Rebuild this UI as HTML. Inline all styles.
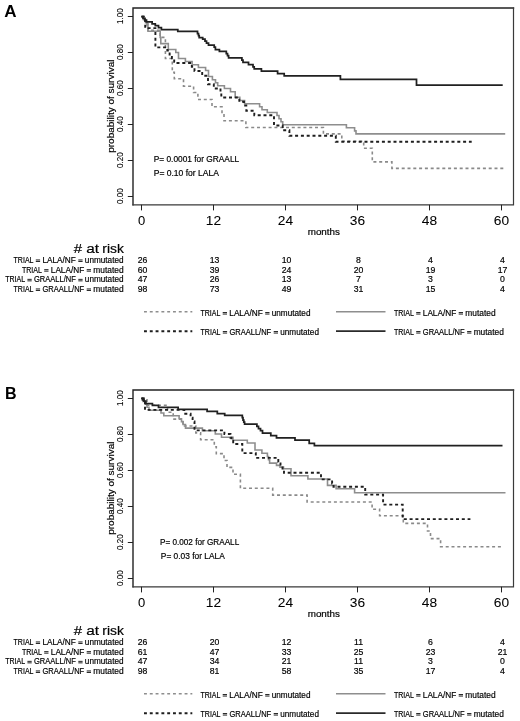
<!DOCTYPE html>
<html><head><meta charset="utf-8"><style>
html,body{margin:0;padding:0;background:#fff;}
svg{display:block;will-change:transform;}
text{font-family:"Liberation Sans", sans-serif;stroke:#000;stroke-width:0.18px;}
</style></head><body>
<svg width="520" height="721" viewBox="0 0 520 721">
<rect width="520" height="721" fill="#fff"/>
<text x="4.2" y="16.9" font-size="16" textLength="12.3" lengthAdjust="spacingAndGlyphs" font-weight="bold" fill="#000" style="stroke:none">A</text>
<path d="M133,204.8 V8 H513.5" fill="none" stroke="#222" stroke-width="1.4" stroke-linecap="square"/>
<path d="M133,204.8 H513.5 V8" fill="none" stroke="#3a3a3a" stroke-width="1.2" stroke-linecap="square"/>
<line x1="127.8" y1="196.5" x2="133" y2="196.5" stroke="#222" stroke-width="1"/>
<text transform="translate(122.6,196.15) rotate(-90)" font-size="9.2" text-anchor="middle" textLength="15.6" lengthAdjust="spacingAndGlyphs" style="stroke-width:0.1px">0.00</text>
<line x1="127.8" y1="160.5" x2="133" y2="160.5" stroke="#222" stroke-width="1"/>
<text transform="translate(122.6,160.15) rotate(-90)" font-size="9.2" text-anchor="middle" textLength="15.6" lengthAdjust="spacingAndGlyphs" style="stroke-width:0.1px">0.20</text>
<line x1="127.8" y1="124.5" x2="133" y2="124.5" stroke="#222" stroke-width="1"/>
<text transform="translate(122.6,124.15) rotate(-90)" font-size="9.2" text-anchor="middle" textLength="15.6" lengthAdjust="spacingAndGlyphs" style="stroke-width:0.1px">0.40</text>
<line x1="127.8" y1="88.49999999999999" x2="133" y2="88.49999999999999" stroke="#222" stroke-width="1"/>
<text transform="translate(122.6,88.14999999999999) rotate(-90)" font-size="9.2" text-anchor="middle" textLength="15.6" lengthAdjust="spacingAndGlyphs" style="stroke-width:0.1px">0.60</text>
<line x1="127.8" y1="52.5" x2="133" y2="52.5" stroke="#222" stroke-width="1"/>
<text transform="translate(122.6,52.15) rotate(-90)" font-size="9.2" text-anchor="middle" textLength="15.6" lengthAdjust="spacingAndGlyphs" style="stroke-width:0.1px">0.80</text>
<line x1="127.8" y1="16.5" x2="133" y2="16.5" stroke="#222" stroke-width="1"/>
<text transform="translate(122.6,16.15) rotate(-90)" font-size="9.2" text-anchor="middle" textLength="15.6" lengthAdjust="spacingAndGlyphs" style="stroke-width:0.1px">1.00</text>
<text transform="translate(114.1,106.2) rotate(-90)" font-size="9" text-anchor="middle" textLength="93.2" lengthAdjust="spacingAndGlyphs">probability of survival</text>
<line x1="141.5" y1="204.8" x2="141.5" y2="210.4" stroke="#222" stroke-width="1"/>
<text x="141.5" y="225.2" font-size="13" text-anchor="middle" fill="#000" style="stroke-width:0.05px">0</text>
<line x1="213.5" y1="204.8" x2="213.5" y2="210.4" stroke="#222" stroke-width="1"/>
<text x="213.5" y="225.2" font-size="13" text-anchor="middle" textLength="15.3" lengthAdjust="spacingAndGlyphs" fill="#000" style="stroke-width:0.05px">12</text>
<line x1="285.5" y1="204.8" x2="285.5" y2="210.4" stroke="#222" stroke-width="1"/>
<text x="285.5" y="225.2" font-size="13" text-anchor="middle" textLength="15.3" lengthAdjust="spacingAndGlyphs" fill="#000" style="stroke-width:0.05px">24</text>
<line x1="357.5" y1="204.8" x2="357.5" y2="210.4" stroke="#222" stroke-width="1"/>
<text x="357.5" y="225.2" font-size="13" text-anchor="middle" textLength="15.3" lengthAdjust="spacingAndGlyphs" fill="#000" style="stroke-width:0.05px">36</text>
<line x1="429.5" y1="204.8" x2="429.5" y2="210.4" stroke="#222" stroke-width="1"/>
<text x="429.5" y="225.2" font-size="13" text-anchor="middle" textLength="15.3" lengthAdjust="spacingAndGlyphs" fill="#000" style="stroke-width:0.05px">48</text>
<line x1="501.5" y1="204.8" x2="501.5" y2="210.4" stroke="#222" stroke-width="1"/>
<text x="501.5" y="225.2" font-size="13" text-anchor="middle" textLength="15.3" lengthAdjust="spacingAndGlyphs" fill="#000" style="stroke-width:0.05px">60</text>
<text x="307.7" y="235" font-size="9" textLength="32.3" lengthAdjust="spacingAndGlyphs" fill="#000">months</text>
<text x="73.80" y="252.8" font-size="12" textLength="8.30" lengthAdjust="spacingAndGlyphs">#</text>
<text x="86.20" y="252.8" font-size="12" textLength="12.80" lengthAdjust="spacingAndGlyphs">at</text>
<text x="102.30" y="252.8" font-size="12" textLength="21.50" lengthAdjust="spacingAndGlyphs">risk</text>
<text x="13.55" y="262.9" font-size="8.2" textLength="19.95" lengthAdjust="spacingAndGlyphs">TRIAL</text>
<rect x="35.80" y="259.45" width="4.30" height="1.0" fill="#222"/>
<rect x="35.80" y="260.95" width="4.30" height="1.0" fill="#222"/>
<text x="42.40" y="262.9" font-size="8.2" textLength="33.40" lengthAdjust="spacingAndGlyphs">LALA/NF</text>
<rect x="78.30" y="259.45" width="4.30" height="1.0" fill="#222"/>
<rect x="78.30" y="260.95" width="4.30" height="1.0" fill="#222"/>
<text x="84.85" y="262.9" font-size="8.2" textLength="38.70" lengthAdjust="spacingAndGlyphs">unmutated</text>
<text x="142.5" y="262.9" font-size="8.7" text-anchor="middle" fill="#000">26</text>
<text x="214.5" y="262.9" font-size="8.7" text-anchor="middle" fill="#000">13</text>
<text x="286.5" y="262.9" font-size="8.7" text-anchor="middle" fill="#000">10</text>
<text x="358.5" y="262.9" font-size="8.7" text-anchor="middle" fill="#000">8</text>
<text x="430.5" y="262.9" font-size="8.7" text-anchor="middle" fill="#000">4</text>
<text x="502.5" y="262.9" font-size="8.7" text-anchor="middle" fill="#000">4</text>
<text x="21.95" y="272.6" font-size="8.2" textLength="19.95" lengthAdjust="spacingAndGlyphs">TRIAL</text>
<rect x="44.20" y="269.15" width="4.30" height="1.0" fill="#222"/>
<rect x="44.20" y="270.65" width="4.30" height="1.0" fill="#222"/>
<text x="50.80" y="272.6" font-size="8.2" textLength="33.40" lengthAdjust="spacingAndGlyphs">LALA/NF</text>
<rect x="86.70" y="269.15" width="4.30" height="1.0" fill="#222"/>
<rect x="86.70" y="270.65" width="4.30" height="1.0" fill="#222"/>
<text x="93.25" y="272.6" font-size="8.2" textLength="30.30" lengthAdjust="spacingAndGlyphs">mutated</text>
<text x="142.5" y="272.6" font-size="8.7" text-anchor="middle" fill="#000">60</text>
<text x="214.5" y="272.6" font-size="8.7" text-anchor="middle" fill="#000">39</text>
<text x="286.5" y="272.6" font-size="8.7" text-anchor="middle" fill="#000">24</text>
<text x="358.5" y="272.6" font-size="8.7" text-anchor="middle" fill="#000">20</text>
<text x="430.5" y="272.6" font-size="8.7" text-anchor="middle" fill="#000">19</text>
<text x="502.5" y="272.6" font-size="8.7" text-anchor="middle" fill="#000">17</text>
<text x="5.15" y="282.3" font-size="8.2" textLength="19.95" lengthAdjust="spacingAndGlyphs">TRIAL</text>
<rect x="27.40" y="278.85" width="4.30" height="1.0" fill="#222"/>
<rect x="27.40" y="280.35" width="4.30" height="1.0" fill="#222"/>
<text x="34.00" y="282.3" font-size="8.2" textLength="41.80" lengthAdjust="spacingAndGlyphs">GRAALL/NF</text>
<rect x="78.30" y="278.85" width="4.30" height="1.0" fill="#222"/>
<rect x="78.30" y="280.35" width="4.30" height="1.0" fill="#222"/>
<text x="84.85" y="282.3" font-size="8.2" textLength="38.70" lengthAdjust="spacingAndGlyphs">unmutated</text>
<text x="142.5" y="282.3" font-size="8.7" text-anchor="middle" fill="#000">47</text>
<text x="214.5" y="282.3" font-size="8.7" text-anchor="middle" fill="#000">26</text>
<text x="286.5" y="282.3" font-size="8.7" text-anchor="middle" fill="#000">13</text>
<text x="358.5" y="282.3" font-size="8.7" text-anchor="middle" fill="#000">7</text>
<text x="430.5" y="282.3" font-size="8.7" text-anchor="middle" fill="#000">3</text>
<text x="502.5" y="282.3" font-size="8.7" text-anchor="middle" fill="#000">0</text>
<text x="13.55" y="291.9" font-size="8.2" textLength="19.95" lengthAdjust="spacingAndGlyphs">TRIAL</text>
<rect x="35.80" y="288.45" width="4.30" height="1.0" fill="#222"/>
<rect x="35.80" y="289.95" width="4.30" height="1.0" fill="#222"/>
<text x="42.40" y="291.9" font-size="8.2" textLength="41.80" lengthAdjust="spacingAndGlyphs">GRAALL/NF</text>
<rect x="86.70" y="288.45" width="4.30" height="1.0" fill="#222"/>
<rect x="86.70" y="289.95" width="4.30" height="1.0" fill="#222"/>
<text x="93.25" y="291.9" font-size="8.2" textLength="30.30" lengthAdjust="spacingAndGlyphs">mutated</text>
<text x="142.5" y="291.9" font-size="8.7" text-anchor="middle" fill="#000">98</text>
<text x="214.5" y="291.9" font-size="8.7" text-anchor="middle" fill="#000">73</text>
<text x="286.5" y="291.9" font-size="8.7" text-anchor="middle" fill="#000">49</text>
<text x="358.5" y="291.9" font-size="8.7" text-anchor="middle" fill="#000">31</text>
<text x="430.5" y="291.9" font-size="8.7" text-anchor="middle" fill="#000">15</text>
<text x="502.5" y="291.9" font-size="8.7" text-anchor="middle" fill="#000">4</text>
<line x1="144" y1="311.8" x2="192.3" y2="311.8" stroke="#8e8e8e" stroke-width="1.6" stroke-dasharray="2.9 2.9"/>
<line x1="144" y1="331.2" x2="192.3" y2="331.2" stroke="#1e1e1e" stroke-width="1.9" stroke-dasharray="2.9 2.9"/>
<line x1="336" y1="311.8" x2="385.5" y2="311.8" stroke="#8e8e8e" stroke-width="1.6"/>
<line x1="336" y1="331.2" x2="385.5" y2="331.2" stroke="#2a2a2a" stroke-width="1.7"/>
<text x="200.45" y="315.5" font-size="8.2" textLength="19.95" lengthAdjust="spacingAndGlyphs">TRIAL</text>
<rect x="222.70" y="312.05" width="4.30" height="1.0" fill="#222"/>
<rect x="222.70" y="313.55" width="4.30" height="1.0" fill="#222"/>
<text x="229.30" y="315.5" font-size="8.2" textLength="33.40" lengthAdjust="spacingAndGlyphs">LALA/NF</text>
<rect x="265.20" y="312.05" width="4.30" height="1.0" fill="#222"/>
<rect x="265.20" y="313.55" width="4.30" height="1.0" fill="#222"/>
<text x="271.75" y="315.5" font-size="8.2" textLength="38.70" lengthAdjust="spacingAndGlyphs">unmutated</text>
<text x="200.55" y="334.5" font-size="8.2" textLength="19.95" lengthAdjust="spacingAndGlyphs">TRIAL</text>
<rect x="222.80" y="331.05" width="4.30" height="1.0" fill="#222"/>
<rect x="222.80" y="332.55" width="4.30" height="1.0" fill="#222"/>
<text x="229.40" y="334.5" font-size="8.2" textLength="41.80" lengthAdjust="spacingAndGlyphs">GRAALL/NF</text>
<rect x="273.70" y="331.05" width="4.30" height="1.0" fill="#222"/>
<rect x="273.70" y="332.55" width="4.30" height="1.0" fill="#222"/>
<text x="280.25" y="334.5" font-size="8.2" textLength="38.70" lengthAdjust="spacingAndGlyphs">unmutated</text>
<text x="393.95" y="315.5" font-size="8.2" textLength="19.95" lengthAdjust="spacingAndGlyphs">TRIAL</text>
<rect x="416.20" y="312.05" width="4.30" height="1.0" fill="#222"/>
<rect x="416.20" y="313.55" width="4.30" height="1.0" fill="#222"/>
<text x="422.80" y="315.5" font-size="8.2" textLength="33.40" lengthAdjust="spacingAndGlyphs">LALA/NF</text>
<rect x="458.70" y="312.05" width="4.30" height="1.0" fill="#222"/>
<rect x="458.70" y="313.55" width="4.30" height="1.0" fill="#222"/>
<text x="465.25" y="315.5" font-size="8.2" textLength="30.30" lengthAdjust="spacingAndGlyphs">mutated</text>
<text x="393.95" y="334.5" font-size="8.2" textLength="19.95" lengthAdjust="spacingAndGlyphs">TRIAL</text>
<rect x="416.20" y="331.05" width="4.30" height="1.0" fill="#222"/>
<rect x="416.20" y="332.55" width="4.30" height="1.0" fill="#222"/>
<text x="422.80" y="334.5" font-size="8.2" textLength="41.80" lengthAdjust="spacingAndGlyphs">GRAALL/NF</text>
<rect x="467.10" y="331.05" width="4.30" height="1.0" fill="#222"/>
<rect x="467.10" y="332.55" width="4.30" height="1.0" fill="#222"/>
<text x="473.65" y="334.5" font-size="8.2" textLength="30.30" lengthAdjust="spacingAndGlyphs">mutated</text>
<text x="153.7" y="161.9" font-size="8.2" textLength="85.5" lengthAdjust="spacingAndGlyphs" fill="#000">P= 0.0001 for GRAALL</text>
<text x="153.7" y="176.3" font-size="8.2" textLength="65.3" lengthAdjust="spacingAndGlyphs" fill="#000">P= 0.10 for LALA</text>
<path d="M141.7,16.6 L145.0,16.6 L145.0,23.6 L148.0,23.6 L148.0,30.4 L160.2,30.4 L160.2,37.4 L165.4,37.4 L165.4,58.5 L172.3,58.5 L172.3,72.2 L174.3,72.2 L174.3,78.7 L183.5,78.7 L183.5,86.2 L193.6,86.2 L193.6,92.5 L197.9,92.5 L197.9,99.5 L212.0,99.5 L212.0,106.8 L222.0,106.8 L222.0,113.7 L224.0,113.7 L224.0,120.8 L245.9,120.8 L245.9,127.5 L323.4,127.5 L323.4,133.9 L341.8,133.9 L341.8,141.2 L363.7,141.2 L363.7,148.2 L372.3,148.2 L372.3,161.9 L391.9,161.9 L391.9,168.4 L504.0,168.4" fill="none" stroke="#8a8a8a" stroke-width="1.6" stroke-dasharray="3 2.8" stroke-linejoin="miter" stroke-linecap="butt"/>
<path d="M141.7,16.6 L143.5,16.6 L143.5,19.6 L145.5,19.6 L145.5,22.6 L147.0,22.6 L147.0,25.6 L148.0,25.6 L148.0,31.2 L160.2,31.2 L160.2,37.5 L160.8,37.5 L160.8,43.6 L168.3,43.6 L168.3,49.5 L175.8,49.5 L175.8,52.5 L178.5,52.5 L178.5,58.5 L185.4,58.5 L185.4,61.5 L192.1,61.5 L192.1,64.7 L198.4,64.7 L198.4,67.5 L205.6,67.5 L205.6,70.5 L208.5,70.5 L208.5,76.5 L212.4,76.5 L212.4,79.7 L215.5,79.7 L215.5,82.8 L217.7,82.8 L217.7,85.7 L224.4,85.7 L224.4,88.5 L230.5,88.5 L230.5,91.8 L235.2,91.8 L235.2,97.2 L239.8,97.2 L239.8,100.5 L244.6,100.5 L244.6,103.7 L259.6,103.7 L259.6,106.8 L262.0,106.8 L262.0,109.7 L267.3,109.7 L267.3,112.5 L277.0,112.5 L277.0,115.5 L279.0,115.5 L279.0,118.7 L281.0,118.7 L281.0,121.7 L282.7,121.7 L282.7,124.7 L346.4,124.7 L346.4,127.8 L354.6,127.8 L354.6,130.9 L356.0,130.9 L356.0,133.9 L505.2,133.9" fill="none" stroke="#8e8e8e" stroke-width="1.6" stroke-linejoin="miter" stroke-linecap="butt"/>
<path d="M141.7,16.6 L145.2,16.6 L145.2,28.1 L155.4,28.1 L155.4,47.4 L167.3,47.4 L167.3,50.5 L169.6,50.5 L169.6,54.5 L171.9,54.5 L171.9,58.2 L174.2,58.2 L174.2,61.8 L175.8,61.8 L175.8,63.0 L191.8,63.0 L191.8,66.8 L194.5,66.8 L194.5,71.0 L202.2,71.0 L202.2,75.8 L208.0,75.8 L208.0,84.2 L213.8,84.2 L213.8,88.5 L220.5,88.5 L220.5,93.2 L221.3,93.2 L221.3,97.5 L239.3,97.5 L239.3,101.8 L244.0,101.8 L244.0,105.5 L246.3,105.5 L246.3,110.7 L254.3,110.7 L254.3,115.2 L274.0,115.2 L274.0,125.5 L282.7,125.5 L282.7,130.3 L289.4,130.3 L289.4,135.8 L335.8,135.8 L335.8,141.8 L471.7,141.8" fill="none" stroke="#1e1e1e" stroke-width="1.9" stroke-dasharray="3 2.8" stroke-linejoin="miter" stroke-linecap="butt"/>
<path d="M141.2,16.6 L143.0,16.6 L143.0,18.4 L145.0,18.4 L145.0,20.2 L146.5,20.2 L146.5,21.8 L152.1,21.8 L152.1,23.8 L155.3,23.8 L155.3,25.6 L158.5,25.6 L158.5,27.6 L161.4,27.6 L161.4,29.6 L177.8,29.6 L177.8,31.4 L197.5,31.4 L197.5,33.5 L198.5,33.5 L198.5,35.5 L199.2,35.5 L199.2,37.5 L202.7,37.5 L202.7,39.2 L205.0,39.2 L205.0,41.2 L206.5,41.2 L206.5,43.2 L208.5,43.2 L208.5,45.0 L214.2,45.0 L214.2,47.2 L215.4,47.2 L215.4,49.6 L219.4,49.6 L219.4,51.4 L226.3,51.4 L226.3,53.5 L227.5,53.5 L227.5,55.5 L228.6,55.5 L228.6,57.8 L241.9,57.8 L241.9,60.0 L243.0,60.0 L243.0,62.4 L248.5,62.4 L248.5,64.7 L253.0,64.7 L253.0,66.8 L254.2,66.8 L254.2,68.8 L261.4,68.8 L261.4,71.2 L277.6,71.2 L277.6,73.5 L284.2,73.5 L284.2,75.8 L340.4,75.8 L340.4,79.3 L416.5,79.3 L416.5,85.0 L502.7,85.0" fill="none" stroke="#202020" stroke-width="1.75" stroke-linejoin="miter" stroke-linecap="butt"/>
<text x="4.9" y="399.1" font-size="16" textLength="11.6" lengthAdjust="spacingAndGlyphs" font-weight="bold" fill="#000" style="stroke:none">B</text>
<path d="M133,586.8 V390 H513.5" fill="none" stroke="#222" stroke-width="1.4" stroke-linecap="square"/>
<path d="M133,586.8 H513.5 V390" fill="none" stroke="#3a3a3a" stroke-width="1.2" stroke-linecap="square"/>
<line x1="127.8" y1="578.5" x2="133" y2="578.5" stroke="#222" stroke-width="1"/>
<text transform="translate(122.6,578.15) rotate(-90)" font-size="9.2" text-anchor="middle" textLength="15.6" lengthAdjust="spacingAndGlyphs" style="stroke-width:0.1px">0.00</text>
<line x1="127.8" y1="542.5" x2="133" y2="542.5" stroke="#222" stroke-width="1"/>
<text transform="translate(122.6,542.15) rotate(-90)" font-size="9.2" text-anchor="middle" textLength="15.6" lengthAdjust="spacingAndGlyphs" style="stroke-width:0.1px">0.20</text>
<line x1="127.8" y1="506.5" x2="133" y2="506.5" stroke="#222" stroke-width="1"/>
<text transform="translate(122.6,506.15) rotate(-90)" font-size="9.2" text-anchor="middle" textLength="15.6" lengthAdjust="spacingAndGlyphs" style="stroke-width:0.1px">0.40</text>
<line x1="127.8" y1="470.5" x2="133" y2="470.5" stroke="#222" stroke-width="1"/>
<text transform="translate(122.6,470.15) rotate(-90)" font-size="9.2" text-anchor="middle" textLength="15.6" lengthAdjust="spacingAndGlyphs" style="stroke-width:0.1px">0.60</text>
<line x1="127.8" y1="434.5" x2="133" y2="434.5" stroke="#222" stroke-width="1"/>
<text transform="translate(122.6,434.15) rotate(-90)" font-size="9.2" text-anchor="middle" textLength="15.6" lengthAdjust="spacingAndGlyphs" style="stroke-width:0.1px">0.80</text>
<line x1="127.8" y1="398.5" x2="133" y2="398.5" stroke="#222" stroke-width="1"/>
<text transform="translate(122.6,398.15) rotate(-90)" font-size="9.2" text-anchor="middle" textLength="15.6" lengthAdjust="spacingAndGlyphs" style="stroke-width:0.1px">1.00</text>
<text transform="translate(114.1,488.2) rotate(-90)" font-size="9" text-anchor="middle" textLength="93.2" lengthAdjust="spacingAndGlyphs">probability of survival</text>
<line x1="141.5" y1="586.8" x2="141.5" y2="592.4" stroke="#222" stroke-width="1"/>
<text x="141.5" y="607.2" font-size="13" text-anchor="middle" fill="#000" style="stroke-width:0.05px">0</text>
<line x1="213.5" y1="586.8" x2="213.5" y2="592.4" stroke="#222" stroke-width="1"/>
<text x="213.5" y="607.2" font-size="13" text-anchor="middle" textLength="15.3" lengthAdjust="spacingAndGlyphs" fill="#000" style="stroke-width:0.05px">12</text>
<line x1="285.5" y1="586.8" x2="285.5" y2="592.4" stroke="#222" stroke-width="1"/>
<text x="285.5" y="607.2" font-size="13" text-anchor="middle" textLength="15.3" lengthAdjust="spacingAndGlyphs" fill="#000" style="stroke-width:0.05px">24</text>
<line x1="357.5" y1="586.8" x2="357.5" y2="592.4" stroke="#222" stroke-width="1"/>
<text x="357.5" y="607.2" font-size="13" text-anchor="middle" textLength="15.3" lengthAdjust="spacingAndGlyphs" fill="#000" style="stroke-width:0.05px">36</text>
<line x1="429.5" y1="586.8" x2="429.5" y2="592.4" stroke="#222" stroke-width="1"/>
<text x="429.5" y="607.2" font-size="13" text-anchor="middle" textLength="15.3" lengthAdjust="spacingAndGlyphs" fill="#000" style="stroke-width:0.05px">48</text>
<line x1="501.5" y1="586.8" x2="501.5" y2="592.4" stroke="#222" stroke-width="1"/>
<text x="501.5" y="607.2" font-size="13" text-anchor="middle" textLength="15.3" lengthAdjust="spacingAndGlyphs" fill="#000" style="stroke-width:0.05px">60</text>
<text x="307.7" y="617" font-size="9" textLength="32.3" lengthAdjust="spacingAndGlyphs" fill="#000">months</text>
<text x="73.80" y="634.8" font-size="12" textLength="8.30" lengthAdjust="spacingAndGlyphs">#</text>
<text x="86.20" y="634.8" font-size="12" textLength="12.80" lengthAdjust="spacingAndGlyphs">at</text>
<text x="102.30" y="634.8" font-size="12" textLength="21.50" lengthAdjust="spacingAndGlyphs">risk</text>
<text x="13.55" y="644.9" font-size="8.2" textLength="19.95" lengthAdjust="spacingAndGlyphs">TRIAL</text>
<rect x="35.80" y="641.45" width="4.30" height="1.0" fill="#222"/>
<rect x="35.80" y="642.95" width="4.30" height="1.0" fill="#222"/>
<text x="42.40" y="644.9" font-size="8.2" textLength="33.40" lengthAdjust="spacingAndGlyphs">LALA/NF</text>
<rect x="78.30" y="641.45" width="4.30" height="1.0" fill="#222"/>
<rect x="78.30" y="642.95" width="4.30" height="1.0" fill="#222"/>
<text x="84.85" y="644.9" font-size="8.2" textLength="38.70" lengthAdjust="spacingAndGlyphs">unmutated</text>
<text x="142.5" y="644.9" font-size="8.7" text-anchor="middle" fill="#000">26</text>
<text x="214.5" y="644.9" font-size="8.7" text-anchor="middle" fill="#000">20</text>
<text x="286.5" y="644.9" font-size="8.7" text-anchor="middle" fill="#000">12</text>
<text x="358.5" y="644.9" font-size="8.7" text-anchor="middle" fill="#000">11</text>
<text x="430.5" y="644.9" font-size="8.7" text-anchor="middle" fill="#000">6</text>
<text x="502.5" y="644.9" font-size="8.7" text-anchor="middle" fill="#000">4</text>
<text x="21.95" y="654.6" font-size="8.2" textLength="19.95" lengthAdjust="spacingAndGlyphs">TRIAL</text>
<rect x="44.20" y="651.15" width="4.30" height="1.0" fill="#222"/>
<rect x="44.20" y="652.65" width="4.30" height="1.0" fill="#222"/>
<text x="50.80" y="654.6" font-size="8.2" textLength="33.40" lengthAdjust="spacingAndGlyphs">LALA/NF</text>
<rect x="86.70" y="651.15" width="4.30" height="1.0" fill="#222"/>
<rect x="86.70" y="652.65" width="4.30" height="1.0" fill="#222"/>
<text x="93.25" y="654.6" font-size="8.2" textLength="30.30" lengthAdjust="spacingAndGlyphs">mutated</text>
<text x="142.5" y="654.6" font-size="8.7" text-anchor="middle" fill="#000">61</text>
<text x="214.5" y="654.6" font-size="8.7" text-anchor="middle" fill="#000">47</text>
<text x="286.5" y="654.6" font-size="8.7" text-anchor="middle" fill="#000">33</text>
<text x="358.5" y="654.6" font-size="8.7" text-anchor="middle" fill="#000">25</text>
<text x="430.5" y="654.6" font-size="8.7" text-anchor="middle" fill="#000">23</text>
<text x="502.5" y="654.6" font-size="8.7" text-anchor="middle" fill="#000">21</text>
<text x="5.15" y="664.3" font-size="8.2" textLength="19.95" lengthAdjust="spacingAndGlyphs">TRIAL</text>
<rect x="27.40" y="660.85" width="4.30" height="1.0" fill="#222"/>
<rect x="27.40" y="662.35" width="4.30" height="1.0" fill="#222"/>
<text x="34.00" y="664.3" font-size="8.2" textLength="41.80" lengthAdjust="spacingAndGlyphs">GRAALL/NF</text>
<rect x="78.30" y="660.85" width="4.30" height="1.0" fill="#222"/>
<rect x="78.30" y="662.35" width="4.30" height="1.0" fill="#222"/>
<text x="84.85" y="664.3" font-size="8.2" textLength="38.70" lengthAdjust="spacingAndGlyphs">unmutated</text>
<text x="142.5" y="664.3" font-size="8.7" text-anchor="middle" fill="#000">47</text>
<text x="214.5" y="664.3" font-size="8.7" text-anchor="middle" fill="#000">34</text>
<text x="286.5" y="664.3" font-size="8.7" text-anchor="middle" fill="#000">21</text>
<text x="358.5" y="664.3" font-size="8.7" text-anchor="middle" fill="#000">11</text>
<text x="430.5" y="664.3" font-size="8.7" text-anchor="middle" fill="#000">3</text>
<text x="502.5" y="664.3" font-size="8.7" text-anchor="middle" fill="#000">0</text>
<text x="13.55" y="673.9" font-size="8.2" textLength="19.95" lengthAdjust="spacingAndGlyphs">TRIAL</text>
<rect x="35.80" y="670.45" width="4.30" height="1.0" fill="#222"/>
<rect x="35.80" y="671.95" width="4.30" height="1.0" fill="#222"/>
<text x="42.40" y="673.9" font-size="8.2" textLength="41.80" lengthAdjust="spacingAndGlyphs">GRAALL/NF</text>
<rect x="86.70" y="670.45" width="4.30" height="1.0" fill="#222"/>
<rect x="86.70" y="671.95" width="4.30" height="1.0" fill="#222"/>
<text x="93.25" y="673.9" font-size="8.2" textLength="30.30" lengthAdjust="spacingAndGlyphs">mutated</text>
<text x="142.5" y="673.9" font-size="8.7" text-anchor="middle" fill="#000">98</text>
<text x="214.5" y="673.9" font-size="8.7" text-anchor="middle" fill="#000">81</text>
<text x="286.5" y="673.9" font-size="8.7" text-anchor="middle" fill="#000">58</text>
<text x="358.5" y="673.9" font-size="8.7" text-anchor="middle" fill="#000">35</text>
<text x="430.5" y="673.9" font-size="8.7" text-anchor="middle" fill="#000">17</text>
<text x="502.5" y="673.9" font-size="8.7" text-anchor="middle" fill="#000">4</text>
<line x1="144" y1="693.8" x2="192.3" y2="693.8" stroke="#8e8e8e" stroke-width="1.6" stroke-dasharray="2.9 2.9"/>
<line x1="144" y1="713.2" x2="192.3" y2="713.2" stroke="#1e1e1e" stroke-width="1.9" stroke-dasharray="2.9 2.9"/>
<line x1="336" y1="693.8" x2="385.5" y2="693.8" stroke="#8e8e8e" stroke-width="1.6"/>
<line x1="336" y1="713.2" x2="385.5" y2="713.2" stroke="#2a2a2a" stroke-width="1.7"/>
<text x="200.45" y="697.5" font-size="8.2" textLength="19.95" lengthAdjust="spacingAndGlyphs">TRIAL</text>
<rect x="222.70" y="694.05" width="4.30" height="1.0" fill="#222"/>
<rect x="222.70" y="695.55" width="4.30" height="1.0" fill="#222"/>
<text x="229.30" y="697.5" font-size="8.2" textLength="33.40" lengthAdjust="spacingAndGlyphs">LALA/NF</text>
<rect x="265.20" y="694.05" width="4.30" height="1.0" fill="#222"/>
<rect x="265.20" y="695.55" width="4.30" height="1.0" fill="#222"/>
<text x="271.75" y="697.5" font-size="8.2" textLength="38.70" lengthAdjust="spacingAndGlyphs">unmutated</text>
<text x="200.55" y="716.5" font-size="8.2" textLength="19.95" lengthAdjust="spacingAndGlyphs">TRIAL</text>
<rect x="222.80" y="713.05" width="4.30" height="1.0" fill="#222"/>
<rect x="222.80" y="714.55" width="4.30" height="1.0" fill="#222"/>
<text x="229.40" y="716.5" font-size="8.2" textLength="41.80" lengthAdjust="spacingAndGlyphs">GRAALL/NF</text>
<rect x="273.70" y="713.05" width="4.30" height="1.0" fill="#222"/>
<rect x="273.70" y="714.55" width="4.30" height="1.0" fill="#222"/>
<text x="280.25" y="716.5" font-size="8.2" textLength="38.70" lengthAdjust="spacingAndGlyphs">unmutated</text>
<text x="393.95" y="697.5" font-size="8.2" textLength="19.95" lengthAdjust="spacingAndGlyphs">TRIAL</text>
<rect x="416.20" y="694.05" width="4.30" height="1.0" fill="#222"/>
<rect x="416.20" y="695.55" width="4.30" height="1.0" fill="#222"/>
<text x="422.80" y="697.5" font-size="8.2" textLength="33.40" lengthAdjust="spacingAndGlyphs">LALA/NF</text>
<rect x="458.70" y="694.05" width="4.30" height="1.0" fill="#222"/>
<rect x="458.70" y="695.55" width="4.30" height="1.0" fill="#222"/>
<text x="465.25" y="697.5" font-size="8.2" textLength="30.30" lengthAdjust="spacingAndGlyphs">mutated</text>
<text x="393.95" y="716.5" font-size="8.2" textLength="19.95" lengthAdjust="spacingAndGlyphs">TRIAL</text>
<rect x="416.20" y="713.05" width="4.30" height="1.0" fill="#222"/>
<rect x="416.20" y="714.55" width="4.30" height="1.0" fill="#222"/>
<text x="422.80" y="716.5" font-size="8.2" textLength="41.80" lengthAdjust="spacingAndGlyphs">GRAALL/NF</text>
<rect x="467.10" y="713.05" width="4.30" height="1.0" fill="#222"/>
<rect x="467.10" y="714.55" width="4.30" height="1.0" fill="#222"/>
<text x="473.65" y="716.5" font-size="8.2" textLength="30.30" lengthAdjust="spacingAndGlyphs">mutated</text>
<text x="160" y="545.4" font-size="8.2" textLength="79.2" lengthAdjust="spacingAndGlyphs" fill="#000">P= 0.002 for GRAALL</text>
<text x="160.8" y="558.8" font-size="8.2" textLength="64.0" lengthAdjust="spacingAndGlyphs" fill="#000">P= 0.03 for LALA</text>
<path d="M141.7,398.4 L147.0,398.4 L147.0,405.3 L167.5,405.3 L167.5,412.2 L173.2,412.2 L173.2,419.1 L183.0,419.1 L183.0,426.0 L195.8,426.0 L195.8,432.9 L200.6,432.9 L200.6,439.8 L214.3,439.8 L214.3,446.7 L216.3,446.7 L216.3,453.6 L224.0,453.6 L224.0,460.5 L227.0,460.5 L227.0,467.4 L233.0,467.4 L233.0,474.3 L240.4,474.3 L240.4,488.3 L272.7,488.3 L272.7,495.1 L307.1,495.1 L307.1,502.0 L372.1,502.0 L372.1,509.2 L379.6,509.2 L379.6,515.8 L403.3,515.8 L403.3,523.4 L427.5,523.4 L427.5,531.0 L430.5,531.0 L430.5,538.6 L440.6,538.6 L440.6,546.8 L502.0,546.8" fill="none" stroke="#8a8a8a" stroke-width="1.6" stroke-dasharray="3 2.8" stroke-linejoin="miter" stroke-linecap="butt"/>
<path d="M141.7,398.4 L143.0,398.4 L143.0,401.4 L145.0,401.4 L145.0,404.3 L147.0,404.3 L147.0,407.3 L149.0,407.3 L149.0,410.2 L161.0,410.2 L161.0,413.0 L163.8,413.0 L163.8,415.8 L179.1,415.8 L179.1,418.7 L181.5,418.7 L181.5,421.6 L183.0,421.6 L183.0,424.5 L185.5,424.5 L185.5,428.1 L202.4,428.1 L202.4,430.7 L215.3,430.7 L215.3,434.0 L221.5,434.0 L221.5,437.3 L233.0,437.3 L233.0,440.2 L247.3,440.2 L247.3,443.0 L255.0,443.0 L255.0,450.0 L261.9,450.0 L261.9,453.2 L267.4,453.2 L267.4,456.5 L268.5,456.5 L268.5,459.8 L269.6,459.8 L269.6,463.1 L276.5,463.1 L276.5,465.4 L280.0,465.4 L280.0,467.1 L283.5,467.1 L283.5,468.8 L291.0,468.8 L291.0,475.7 L307.9,475.7 L307.9,479.0 L327.5,479.0 L327.5,485.4 L336.1,485.4 L336.1,488.8 L354.6,488.8 L354.6,492.7 L505.5,492.7" fill="none" stroke="#8e8e8e" stroke-width="1.6" stroke-linejoin="miter" stroke-linecap="butt"/>
<path d="M141.7,398.4 L145.0,398.4 L145.0,409.9 L184.3,409.9 L184.3,413.8 L190.6,413.8 L190.6,417.6 L192.6,417.6 L192.6,421.4 L194.5,421.4 L194.5,430.4 L224.4,430.4 L224.4,434.0 L230.5,434.0 L230.5,437.8 L231.5,437.8 L231.5,441.0 L233.2,441.0 L233.2,444.0 L242.3,444.0 L242.3,453.1 L255.8,453.1 L255.8,457.9 L278.3,457.9 L278.3,461.9 L280.5,461.9 L280.5,465.8 L282.5,465.8 L282.5,469.6 L284.0,469.6 L284.0,472.8 L321.0,472.8 L321.0,479.4 L332.1,479.4 L332.1,483.5 L333.5,483.5 L333.5,486.8 L365.2,486.8 L365.2,494.6 L383.1,494.6 L383.1,504.6 L402.7,504.6 L402.7,519.1 L470.4,519.1" fill="none" stroke="#1e1e1e" stroke-width="1.9" stroke-dasharray="3 2.8" stroke-linejoin="miter" stroke-linecap="butt"/>
<path d="M141.1,398.4 L142.5,398.4 L142.5,399.8 L144.0,399.8 L144.0,401.2 L145.9,401.2 L145.9,403.5 L152.4,403.5 L152.4,405.4 L158.5,405.4 L158.5,407.3 L178.1,407.3 L178.1,409.4 L207.1,409.4 L207.1,411.3 L217.3,411.3 L217.3,413.6 L224.7,413.6 L224.7,415.4 L242.3,415.4 L242.3,417.6 L243.0,417.6 L243.0,420.0 L243.8,420.0 L243.8,422.0 L244.6,422.0 L244.6,424.2 L256.9,424.2 L256.9,426.3 L258.5,426.3 L258.5,428.5 L260.5,428.5 L260.5,430.7 L262.5,430.7 L262.5,433.1 L270.8,433.1 L270.8,435.5 L276.5,435.5 L276.5,437.8 L295.0,437.8 L295.0,440.1 L309.2,440.1 L309.2,443.3 L314.4,443.3 L314.4,445.7 L502.5,445.7" fill="none" stroke="#202020" stroke-width="1.75" stroke-linejoin="miter" stroke-linecap="butt"/>
</svg>
</body></html>
